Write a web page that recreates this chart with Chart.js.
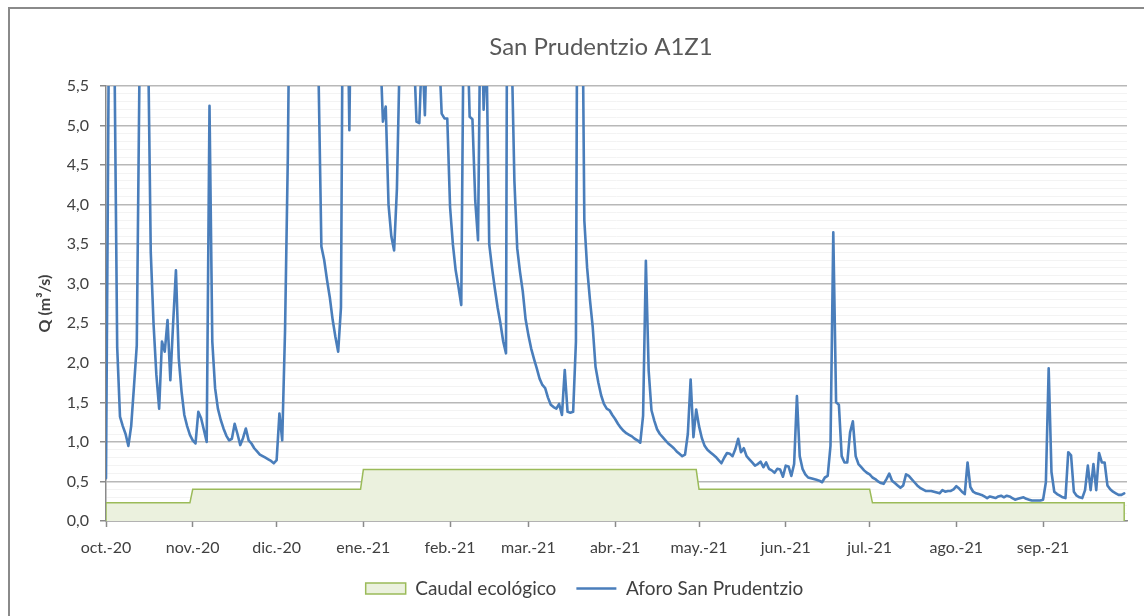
<!DOCTYPE html>
<html lang="es">
<head>
<meta charset="utf-8">
<title>San Prudentzio A1Z1</title>
<script src="https://cdn.jsdelivr.net/npm/chart.js@4.4.1/dist/chart.umd.min.js"></script>
<style>
  html, body { margin: 0; padding: 0; background: #fff; overflow: hidden; }
  #marco { position: absolute; left: 0; top: 0; width: 1169px; height: 616px; }
  #borde { position: absolute; left: 8px; top: 7px; width: 1160px; height: 700px; border: 2px solid #8a8a8a; box-sizing: border-box; pointer-events: none; }
  canvas { position: absolute; left: 0; top: 0; }
</style>
</head>
<body>
<div id="marco">
  <canvas id="grafico" width="1169" height="616"></canvas>
  <div id="borde"></div>
</div>
<script>
// Caudal diario Aforo San Prudentzio (m3/s), un array por mes
const aforoOct20 = [0.54, 6.0, 9.0, 6.0, 2.2, 1.32, 1.2, 1.1, 0.95, 1.2, 1.7, 2.22, 5.8, 10.0, 9.0, 6.2, 3.4, 2.49, 1.85, 1.42, 2.27, 2.14, 2.54, 1.78, 2.5, 3.17, 2.06, 1.64, 1.34, 1.2, 1.09];
const aforoNov20 = [1.02, 0.98, 1.38, 1.30, 1.15, 1.0, 5.25, 2.27, 1.68, 1.42, 1.28, 1.17, 1.08, 1.02, 1.04, 1.23, 1.1, 0.96, 1.05, 1.17, 1.02, 0.98, 0.92, 0.88, 0.84, 0.82, 0.8, 0.78, 0.76, 0.73];
const aforoDic20 = [0.77, 1.36, 1.02, 2.4, 4.6, 8.0, 11.0, 13.0, 12.0, 10.0, 9.0, 8.0, 7.5, 7.0, 6.5, 5.6, 3.47, 3.3, 3.05, 2.83, 2.55, 2.33, 2.14, 2.7, 9.0, 7.5, 4.94, 8.0, 10.0, 12.0, 11.0];
const aforoEne21 = [10.0, 9.0, 8.0, 8.5, 7.0, 6.5, 6.0, 5.05, 5.24, 4.0, 3.6, 3.42, 4.2, 5.9, 9.0, 8.0, 7.0, 6.5, 6.0, 5.05, 5.03, 6.0, 5.13, 6.5, 9.0, 8.0, 7.0, 6.0, 5.15, 5.09, 5.09];
const aforoFeb21 = [3.97, 3.5, 3.17, 2.96, 2.73, 7.0, 6.5, 5.11, 5.08, 4.05, 3.55, 7.0, 5.2, 6.0, 3.5, 3.2, 2.94, 2.7, 2.5, 2.27, 2.12, 14.0, 6.0, 4.3, 3.45, 3.15, 2.9, 2.55];
const aforoMar21 = [2.35, 2.18, 2.05, 1.93, 1.8, 1.72, 1.68, 1.56, 1.47, 1.44, 1.42, 1.48, 1.34, 1.91, 1.38, 1.37, 1.38, 2.27, 12.0, 8.0, 3.8, 3.2, 2.8, 2.45, 1.95, 1.75, 1.59, 1.48, 1.42, 1.4, 1.34];
const aforoAbr21 = [1.29, 1.23, 1.18, 1.14, 1.11, 1.09, 1.07, 1.04, 1.02, 0.99, 1.33, 3.29, 1.9, 1.4, 1.27, 1.16, 1.1, 1.06, 1.02, 0.98, 0.95, 0.92, 0.88, 0.85, 0.82, 0.84, 1.1, 1.79, 1.06, 1.41];
const aforoMay21 = [1.2, 1.05, 0.95, 0.9, 0.87, 0.84, 0.81, 0.77, 0.73, 0.8, 0.86, 0.85, 0.82, 0.91, 1.04, 0.87, 0.92, 0.82, 0.78, 0.74, 0.7, 0.72, 0.75, 0.68, 0.74, 0.66, 0.64, 0.61, 0.66, 0.65, 0.56];
const aforoJun21 = [0.7, 0.69, 0.57, 0.72, 1.58, 0.82, 0.66, 0.59, 0.55, 0.54, 0.53, 0.52, 0.51, 0.49, 0.55, 0.57, 0.95, 3.65, 1.5, 1.47, 0.82, 0.74, 0.74, 1.12, 1.26, 0.82, 0.72, 0.68, 0.64, 0.61];
const aforoJul21 = [0.59, 0.55, 0.53, 0.5, 0.48, 0.47, 0.53, 0.6, 0.51, 0.48, 0.45, 0.42, 0.45, 0.59, 0.57, 0.53, 0.49, 0.45, 0.42, 0.4, 0.38, 0.38, 0.38, 0.37, 0.36, 0.35, 0.39, 0.37, 0.38, 0.38, 0.4];
const aforoAgo21 = [0.44, 0.41, 0.37, 0.34, 0.74, 0.43, 0.37, 0.35, 0.34, 0.33, 0.31, 0.29, 0.31, 0.3, 0.29, 0.31, 0.32, 0.3, 0.32, 0.31, 0.29, 0.27, 0.28, 0.29, 0.3, 0.28, 0.27, 0.26, 0.26, 0.26, 0.26];
const aforoSep21 = [0.27, 0.49, 1.93, 0.62, 0.37, 0.34, 0.32, 0.3, 0.29, 0.87, 0.83, 0.37, 0.32, 0.3, 0.29, 0.39, 0.7, 0.39, 0.72, 0.39, 0.86, 0.74, 0.74, 0.45, 0.4, 0.37, 0.35, 0.33, 0.33, 0.35];

// Caudal ecologico por tramos (dia desde 1-oct-2020, m3/s)
const ecoDias = [0, 0, 30, 31, 91, 92, 211, 212, 273, 274, 364, 364];
const ecoQ = [0, 0.23, 0.23, 0.40, 0.40, 0.65, 0.65, 0.40, 0.40, 0.23, 0.23, 0];

// Eje X: etiquetas de mes y su dia de inicio
const meses = ['oct.-20', 'nov.-20', 'dic.-20', 'ene.-21', 'feb.-21', 'mar.-21', 'abr.-21', 'may.-21', 'jun.-21', 'jul.-21', 'ago.-21', 'sep.-21'];
const inicioMes = [0, 31, 61, 92, 123, 151, 182, 212, 243, 273, 304, 335];

const FUENTE = 'Lato, "Open Sans", sans-serif';
const aforo = [].concat(aforoOct20, aforoNov20, aforoDic20, aforoEne21, aforoFeb21, aforoMar21,
  aforoAbr21, aforoMay21, aforoJun21, aforoJul21, aforoAgo21, aforoSep21);
const esMayor = v => Math.round(v * 10) % 5 === 0;
const coma = v => v.toFixed(1).replace('.', ',');

const tituloExcel = {
  id: 'tituloExcel',
  afterDraw(chart) {
    const c = chart.ctx;
    c.save();
    c.font = '24px ' + FUENTE;
    c.fillStyle = '#595959';
    c.textAlign = 'center';
    c.textBaseline = 'middle';
    c.fillText('San Prudentzio A1Z1', 601, 47);
    c.restore();
  }
};

new Chart(document.getElementById('grafico'), {
  type: 'line',
  data: {
    datasets: [
      {
        label: 'Caudal ecológico',
        data: ecoDias.map((d, i) => ({ x: d, y: ecoQ[i] })),
        borderColor: '#9bbb59', backgroundColor: '#ebf1de', borderWidth: 1.5,
        fill: 'origin', pointRadius: 0, pointStyle: 'rect', tension: 0, order: 2
      },
      {
        label: 'Aforo San Prudentzio',
        data: aforo.map((q, i) => ({ x: i, y: q })),
        borderColor: '#4a7ebb', backgroundColor: '#4a7ebb', borderWidth: 2.6,
        fill: false, pointRadius: 0, pointStyle: 'line', tension: 0, order: 1,
        borderJoinStyle: 'round', borderCapStyle: 'round'
      }
    ]
  },
  options: {
    responsive: false, animation: false, devicePixelRatio: 1,
    layout: { padding: { top: 86, left: 0, right: 0, bottom: 8 } },
    plugins: {
      title: { display: false },
      tooltip: { enabled: false },
      legend: {
        position: 'bottom',
        labels: {
          usePointStyle: true, pointStyleWidth: 40, boxHeight: 11, padding: 20,
          color: '#404040', font: { family: FUENTE, size: 19 },
          sort: (a, b) => a.datasetIndex - b.datasetIndex
        }
      }
    },
    scales: {
      x: {
        type: 'linear', min: 0, max: 365,
        afterBuildTicks: s => { s.ticks = inicioMes.map(v => ({ value: v })); },
        afterFit: s => { s.height = 38; },
        ticks: {
          autoSkip: false, maxRotation: 0, padding: 11,
          color: '#404040', font: { family: FUENTE, size: 16 },
          callback: (v, i) => meses[i]
        },
        grid: { drawOnChartArea: false, drawTicks: true, tickLength: 6, tickColor: '#8a8a8a', tickWidth: 1.5 },
        border: { color: '#8a8a8a', width: 1.5 }
      },
      y: {
        min: 0, max: 5.5,
        afterFit: s => { s.width = 106; },
        ticks: {
          stepSize: 0.1, maxTicksLimit: 100, autoSkip: false, padding: 11,
          color: '#404040', font: { family: FUENTE, size: 16 },
          callback: v => esMayor(v) ? coma(v) : ''
        },
        grid: {
          color: c => esMayor(c.tick.value) ? '#b8b8b8' : '#f3f3f3',
          lineWidth: c => esMayor(c.tick.value) ? 1.5 : 1,
          tickColor: c => esMayor(c.tick.value) ? '#8a8a8a' : 'rgba(0,0,0,0)',
          tickLength: 6, tickWidth: 1.5
        },
        border: { color: '#8a8a8a', width: 1.5 },
        title: {
          display: true, text: 'Q (m³/s)', color: '#404040',
          font: { family: FUENTE, size: 16, weight: 'bold' },
          padding: { top: 35, bottom: 0 }
        }
      },
      y2: {
        type: 'linear', position: 'right', display: true, min: 0, max: 1,
        afterFit: s => { s.width = 42; },
        grid: { display: false }, border: { display: false }, ticks: { display: false }
      }
    }
  },
  plugins: [tituloExcel]
});
</script>
</body>
</html>
